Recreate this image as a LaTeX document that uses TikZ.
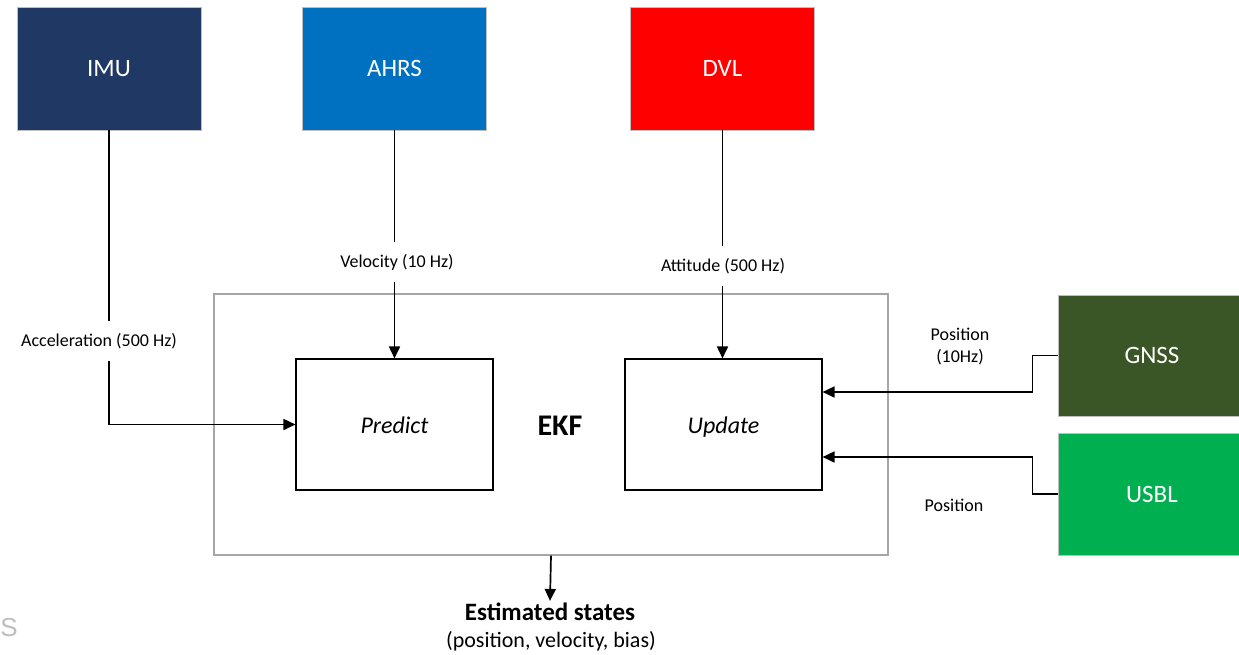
\documentclass[tikz,border=0pt]{standalone}
\usepackage{fontspec}
\setmainfont{Carlito}
\newfontfamily\sfgray{Liberation Sans}
\usetikzlibrary{arrows.meta,calc}
\definecolor{imuc}{RGB}{31,56,100}
\definecolor{ahrsc}{RGB}{0,112,192}
\definecolor{dvlc}{RGB}{255,0,0}
\definecolor{gnssc}{RGB}{58,85,38}
\definecolor{usblc}{RGB}{0,176,80}
\definecolor{boxedge}{RGB}{190,190,190}
\definecolor{ekfedge}{RGB}{166,166,166}
\definecolor{sgray}{RGB}{190,190,190}
\tikzset{
  sensor/.style={draw=boxedge,line width=0.8pt,text=white,minimum width=184pt,minimum height=123pt,inner sep=0pt,font=\fontsize{25}{30}\selectfont},
  filt/.style={draw=black,line width=1.1pt,minimum width=197pt,minimum height=131pt,inner sep=0pt,text height=17pt,text depth=0pt,font=\fontsize{24}{29}\selectfont\itshape},
  lbl/.style={fill=white,inner xsep=3pt,inner ysep=12pt,font=\fontsize{18}{22}\selectfont,align=center},
  conn/.style={line width=1.7pt,draw=black},
  arr/.style={conn,-{Triangle[length=12pt,width=11pt]}}
}
\begin{document}
\begin{tikzpicture}[x=1pt,y=-1pt]
\useasboundingbox (0,0) rectangle (1239,654);
% sensors
\node[sensor,fill=imuc] (IMU) at (109,68.5) {IMU};
\node[sensor,fill=ahrsc] (AHRS) at (394.5,68.5) {AHRS};
\node[sensor,fill=dvlc] (DVL) at (722.5,68.5) {DVL};
\node[sensor,fill=gnssc,minimum width=188pt,minimum height=121pt] (GNSS) at (1152,355.5) {GNSS};
\node[sensor,fill=usblc,minimum width=188pt,minimum height=122pt] (USBL) at (1152,494) {USBL};
% EKF
\node[draw=ekfedge,line width=1.2pt,minimum width=674pt,minimum height=261pt] (EKF) at (551,424.5) {};
\node[font=\fontsize{30}{35}\selectfont\bfseries] (EKFlbl) at (560,426) {EKF};
\node[filt] (Predict) at (394.5,424.5) {Predict};
\node[filt] (Update) at (723.5,424.5) {Update};
% labels
\node[lbl] (vel) at (397,262) {Velocity (10 Hz)};
\node[lbl] (att) at (723,266) {Attitude (500 Hz)};
\node[lbl] (acc) at (99,341) {Acceleration (500 Hz)};
\node[font=\fontsize{18}{22}\selectfont,align=center] (gpos) at (960,347) {Position\\(10Hz)};
\node[font=\fontsize{18}{22}\selectfont] (upos) at (954,505) {Position};
% connectors
\draw[conn] (AHRS.south) -- (AHRS.south |- vel.north);
\draw[arr] (AHRS.south |- vel.south) -- (Predict.north);
\draw[conn] (DVL.south) -- (DVL.south |- att.north);
\draw[arr] (DVL.south |- att.south) -- (DVL.south |- Update.north);
\draw[conn] (IMU.south) -- (IMU.south |- acc.north);
\draw[arr] (IMU.south |- acc.south) |- (Predict.west);
\draw[arr] (GNSS.west) -- ++(-25,0) |- ($(Update.east)+(0,-32.5)$);
\draw[arr] (USBL.west) -- ++(-25,0) |- ($(Update.east)+(0,32.5)$);
% output
\node[font=\fontsize{25}{30}\selectfont\bfseries,inner sep=2pt] (est) at (550,612) {Estimated states};
\node[font=\fontsize{22}{26}\selectfont] (estsub) at (551,641) {(position, velocity, bias)};
\draw[arr] (EKF.south) -- (est.north);
% stray letter
\node[font=\sfgray\fontsize{26}{30}\selectfont,text=sgray,inner sep=0pt] (stray) at (9,627.5) {S};
\end{tikzpicture}
\end{document}
